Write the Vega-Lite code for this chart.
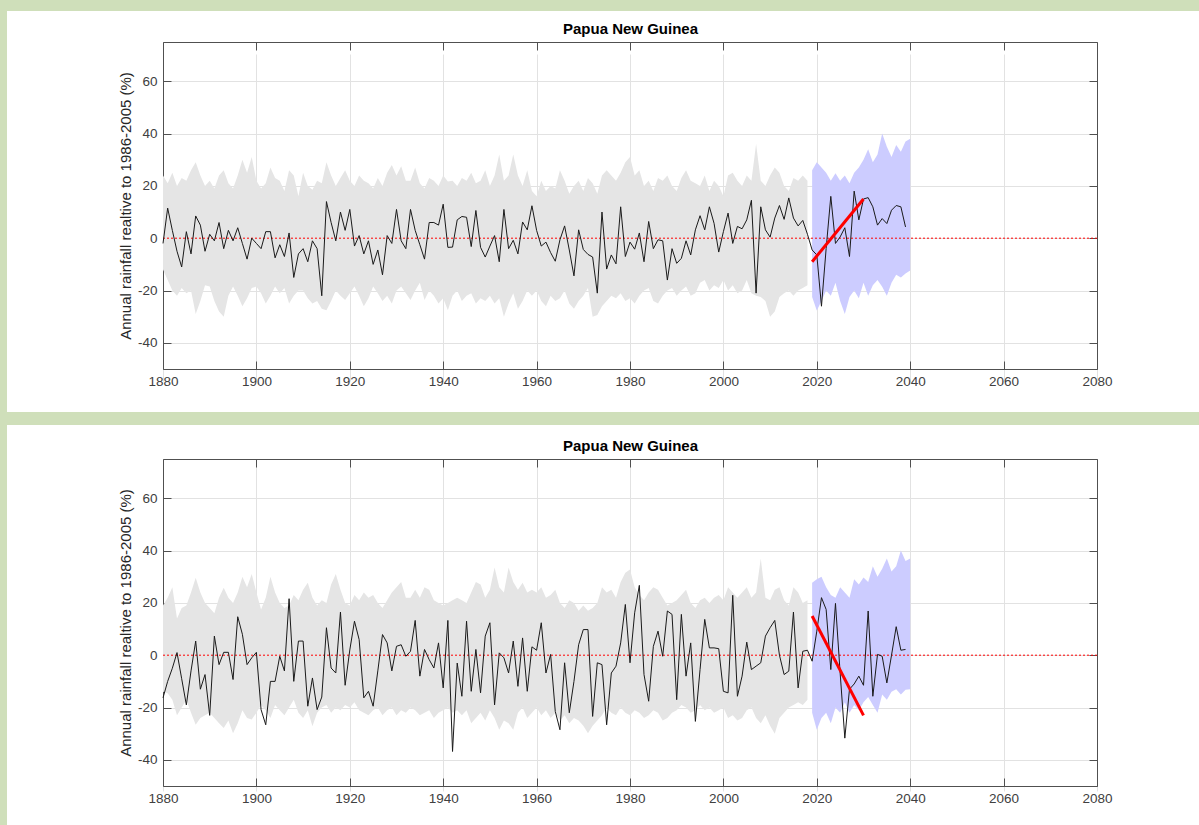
{
  "$schema": "https://vega.github.io/schema/vega-lite/v6.json",
  "background": "#cfdfba",
  "padding": {"left": 7, "top": 11, "right": 0, "bottom": 0},
  "spacing": 13,
  "config": {"font": "Liberation Sans", "view": {"stroke": null}},
  "datasets": {
    "zero": [{"year": 1880, "value": 0}, {"year": 2080, "value": 0}],
    "top_trend": [{"year": 2019, "value": -9}, {"year": 2030, "value": 15}],
    "bot_trend": [{"year": 2019, "value": 15}, {"year": 2030, "value": -23}],
    "top_obs": [
      {"year":1880,"value":-2},{"year":1881,"value":11.5},{"year":1882,"value":3},{"year":1883,"value":-5},{"year":1884,"value":-11},{"year":1885,"value":2.5},{"year":1886,"value":-6},{"year":1887,"value":8.5},{"year":1888,"value":5},{"year":1889,"value":-5},
      {"year":1890,"value":1.5},{"year":1891,"value":-1},{"year":1892,"value":6},{"year":1893,"value":-4},{"year":1894,"value":3},{"year":1895,"value":-1},{"year":1896,"value":4},{"year":1897,"value":-2},{"year":1898,"value":-8},{"year":1899,"value":0},
      {"year":1900,"value":-2},{"year":1901,"value":-4},{"year":1902,"value":2.5},{"year":1903,"value":2.5},{"year":1904,"value":-7.5},{"year":1905,"value":-2.5},{"year":1906,"value":-7},{"year":1907,"value":2},{"year":1908,"value":-15},{"year":1909,"value":-6},
      {"year":1910,"value":-4},{"year":1911,"value":-9},{"year":1912,"value":-1},{"year":1913,"value":-4},{"year":1914,"value":-22},{"year":1915,"value":14},{"year":1916,"value":6},{"year":1917,"value":-1},{"year":1918,"value":10},{"year":1919,"value":3},
      {"year":1920,"value":11},{"year":1921,"value":-3},{"year":1922,"value":1},{"year":1923,"value":-6},{"year":1924,"value":-1},{"year":1925,"value":-10},{"year":1926,"value":-4.5},{"year":1927,"value":-14},{"year":1928,"value":1},{"year":1929,"value":-2},
      {"year":1930,"value":11},{"year":1931,"value":-1},{"year":1932,"value":-4},{"year":1933,"value":11},{"year":1934,"value":3},{"year":1935,"value":-2.5},{"year":1936,"value":-8},{"year":1937,"value":6},{"year":1938,"value":6},{"year":1939,"value":5},
      {"year":1940,"value":13},{"year":1941,"value":-3.5},{"year":1942,"value":-3.4},{"year":1943,"value":7},{"year":1944,"value":8.3},{"year":1945,"value":8},{"year":1946,"value":-3.2},{"year":1947,"value":10.6},{"year":1948,"value":-3.5},{"year":1949,"value":-7.2},
      {"year":1950,"value":-3},{"year":1951,"value":1},{"year":1952,"value":-9},{"year":1953,"value":11},{"year":1954,"value":-4},{"year":1955,"value":-0.8},{"year":1956,"value":-6},{"year":1957,"value":6.2},{"year":1958,"value":3.2},{"year":1959,"value":12.4},
      {"year":1960,"value":3},{"year":1961,"value":-3},{"year":1962,"value":-1.5},{"year":1963,"value":-5.5},{"year":1964,"value":-8.8},{"year":1965,"value":-0.6},{"year":1966,"value":4.7},{"year":1967,"value":-4.5},{"year":1968,"value":-14.4},{"year":1969,"value":3.2},
      {"year":1970,"value":-4.3},{"year":1971,"value":-6.2},{"year":1972,"value":-7.2},{"year":1973,"value":-21},{"year":1974,"value":10},{"year":1975,"value":-11.8},{"year":1976,"value":-6.4},{"year":1977,"value":-9.8},{"year":1978,"value":12},{"year":1979,"value":-7},
      {"year":1980,"value":-1.5},{"year":1981,"value":-4.2},{"year":1982,"value":2},{"year":1983,"value":-9},{"year":1984,"value":6.4},{"year":1985,"value":-4},{"year":1986,"value":-0.6},{"year":1987,"value":-1},{"year":1988,"value":-16},{"year":1989,"value":-4},
      {"year":1990,"value":-9.6},{"year":1991,"value":-7.7},{"year":1992,"value":-1},{"year":1993,"value":-6.4},{"year":1994,"value":3.2},{"year":1995,"value":8.6},{"year":1996,"value":3.2},{"year":1997,"value":12},{"year":1998,"value":5.7},{"year":1999,"value":-5.3},
      {"year":2000,"value":2.5},{"year":2001,"value":9.6},{"year":2002,"value":-2},{"year":2003,"value":4.5},{"year":2004,"value":3.6},{"year":2005,"value":7},{"year":2006,"value":14.5},{"year":2007,"value":-21},{"year":2008,"value":12},{"year":2009,"value":3.2},
      {"year":2010,"value":0.4},{"year":2011,"value":7.7},{"year":2012,"value":12.5},{"year":2013,"value":7.2},{"year":2014,"value":15.4},{"year":2015,"value":7.7},{"year":2016,"value":4.7},{"year":2017,"value":6.8},{"year":2018,"value":1.5},{"year":2019,"value":-4.5},
      {"year":2020,"value":-6.4},{"year":2021,"value":-26},{"year":2022,"value":-4},{"year":2023,"value":16},{"year":2024,"value":-2},{"year":2025,"value":0.5},{"year":2026,"value":4},{"year":2027,"value":-7},{"year":2028,"value":18},{"year":2029,"value":7},
      {"year":2030,"value":15},{"year":2031,"value":15.5},{"year":2032,"value":12},{"year":2033,"value":5},{"year":2034,"value":7.5},{"year":2035,"value":5.6},{"year":2036,"value":10.7},{"year":2037,"value":12.5},{"year":2038,"value":12},{"year":2039,"value":4.3}
    ],
    "top_band": [
      {"year":1880,"lo":-12,"hi":24,"period":"historical"},{"year":1881,"lo":-16,"hi":21,"period":"historical"},{"year":1882,"lo":-20,"hi":25,"period":"historical"},{"year":1883,"lo":-22,"hi":20,"period":"historical"},{"year":1884,"lo":-19,"hi":23,"period":"historical"},
      {"year":1885,"lo":-21,"hi":22,"period":"historical"},{"year":1886,"lo":-20,"hi":26,"period":"historical"},{"year":1887,"lo":-29,"hi":29,"period":"historical"},{"year":1888,"lo":-24,"hi":24,"period":"historical"},{"year":1889,"lo":-18,"hi":20,"period":"historical"},
      {"year":1890,"lo":-18.5,"hi":22,"period":"historical"},{"year":1891,"lo":-24,"hi":19,"period":"historical"},{"year":1892,"lo":-28,"hi":24,"period":"historical"},{"year":1893,"lo":-30,"hi":26,"period":"historical"},{"year":1894,"lo":-22,"hi":21,"period":"historical"},
      {"year":1895,"lo":-18.5,"hi":19,"period":"historical"},{"year":1896,"lo":-22,"hi":24,"period":"historical"},{"year":1897,"lo":-26,"hi":30,"period":"historical"},{"year":1898,"lo":-23,"hi":25,"period":"historical"},{"year":1899,"lo":-19,"hi":31,"period":"historical"},
      {"year":1900,"lo":-18.5,"hi":22,"period":"historical"},{"year":1901,"lo":-21,"hi":19,"period":"historical"},{"year":1902,"lo":-25,"hi":21,"period":"historical"},{"year":1903,"lo":-22,"hi":27,"period":"historical"},{"year":1904,"lo":-18.5,"hi":23,"period":"historical"},
      {"year":1905,"lo":-21,"hi":22,"period":"historical"},{"year":1906,"lo":-19,"hi":18,"period":"historical"},{"year":1907,"lo":-25,"hi":26,"period":"historical"},{"year":1908,"lo":-22,"hi":24,"period":"historical"},{"year":1909,"lo":-20,"hi":16,"period":"historical"},
      {"year":1910,"lo":-20,"hi":25,"period":"historical"},{"year":1911,"lo":-23,"hi":20,"period":"historical"},{"year":1912,"lo":-25,"hi":18.5,"period":"historical"},{"year":1913,"lo":-24,"hi":22,"period":"historical"},{"year":1914,"lo":-27,"hi":21,"period":"historical"},
      {"year":1915,"lo":-27.5,"hi":29,"period":"historical"},{"year":1916,"lo":-24,"hi":24,"period":"historical"},{"year":1917,"lo":-20,"hi":20,"period":"historical"},{"year":1918,"lo":-22,"hi":23,"period":"historical"},{"year":1919,"lo":-23.6,"hi":26,"period":"historical"},
      {"year":1920,"lo":-21,"hi":22,"period":"historical"},{"year":1921,"lo":-18.5,"hi":20,"period":"historical"},{"year":1922,"lo":-22,"hi":24,"period":"historical"},{"year":1923,"lo":-26,"hi":22,"period":"historical"},{"year":1924,"lo":-23,"hi":21,"period":"historical"},
      {"year":1925,"lo":-18.5,"hi":19,"period":"historical"},{"year":1926,"lo":-21,"hi":23,"period":"historical"},{"year":1927,"lo":-24,"hi":20,"period":"historical"},{"year":1928,"lo":-22,"hi":25,"period":"historical"},{"year":1929,"lo":-25,"hi":28,"period":"historical"},
      {"year":1930,"lo":-20,"hi":24,"period":"historical"},{"year":1931,"lo":-18.5,"hi":27.5,"period":"historical"},{"year":1932,"lo":-21,"hi":22,"period":"historical"},{"year":1933,"lo":-23.6,"hi":22,"period":"historical"},{"year":1934,"lo":-20,"hi":27,"period":"historical"},
      {"year":1935,"lo":-17,"hi":21,"period":"historical"},{"year":1936,"lo":-23.6,"hi":19,"period":"historical"},{"year":1937,"lo":-20,"hi":23,"period":"historical"},{"year":1938,"lo":-22,"hi":22,"period":"historical"},{"year":1939,"lo":-25,"hi":20,"period":"historical"},
      {"year":1940,"lo":-23,"hi":24,"period":"historical"},{"year":1941,"lo":-27.5,"hi":21.7,"period":"historical"},{"year":1942,"lo":-22,"hi":22,"period":"historical"},{"year":1943,"lo":-20,"hi":20,"period":"historical"},{"year":1944,"lo":-24,"hi":23,"period":"historical"},
      {"year":1945,"lo":-22,"hi":22,"period":"historical"},{"year":1946,"lo":-21,"hi":25,"period":"historical"},{"year":1947,"lo":-25,"hi":21,"period":"historical"},{"year":1948,"lo":-23,"hi":22,"period":"historical"},{"year":1949,"lo":-24,"hi":26,"period":"historical"},
      {"year":1950,"lo":-22,"hi":20,"period":"historical"},{"year":1951,"lo":-25,"hi":24,"period":"historical"},{"year":1952,"lo":-23,"hi":32,"period":"historical"},{"year":1953,"lo":-30,"hi":22,"period":"historical"},{"year":1954,"lo":-25,"hi":24,"period":"historical"},
      {"year":1955,"lo":-21,"hi":32,"period":"historical"},{"year":1956,"lo":-27,"hi":24,"period":"historical"},{"year":1957,"lo":-24,"hi":20,"period":"historical"},{"year":1958,"lo":-20,"hi":26,"period":"historical"},{"year":1959,"lo":-22,"hi":18,"period":"historical"},
      {"year":1960,"lo":-20,"hi":16,"period":"historical"},{"year":1961,"lo":-24,"hi":22,"period":"historical"},{"year":1962,"lo":-26,"hi":18,"period":"historical"},{"year":1963,"lo":-22,"hi":20,"period":"historical"},{"year":1964,"lo":-24,"hi":19,"period":"historical"},
      {"year":1965,"lo":-23,"hi":26,"period":"historical"},{"year":1966,"lo":-20,"hi":22,"period":"historical"},{"year":1967,"lo":-25,"hi":17,"period":"historical"},{"year":1968,"lo":-27,"hi":20,"period":"historical"},{"year":1969,"lo":-24,"hi":22,"period":"historical"},
      {"year":1970,"lo":-22,"hi":18,"period":"historical"},{"year":1971,"lo":-19,"hi":23,"period":"historical"},{"year":1972,"lo":-30,"hi":21,"period":"historical"},{"year":1973,"lo":-29.4,"hi":17,"period":"historical"},{"year":1974,"lo":-26,"hi":24,"period":"historical"},
      {"year":1975,"lo":-24,"hi":26,"period":"historical"},{"year":1976,"lo":-22,"hi":24,"period":"historical"},{"year":1977,"lo":-23,"hi":22,"period":"historical"},{"year":1978,"lo":-21,"hi":25,"period":"historical"},{"year":1979,"lo":-24,"hi":29,"period":"historical"},
      {"year":1980,"lo":-23,"hi":31,"period":"historical"},{"year":1981,"lo":-25,"hi":24,"period":"historical"},{"year":1982,"lo":-22,"hi":26,"period":"historical"},{"year":1983,"lo":-20,"hi":20,"period":"historical"},{"year":1984,"lo":-19,"hi":22,"period":"historical"},
      {"year":1985,"lo":-24,"hi":18,"period":"historical"},{"year":1986,"lo":-25,"hi":23,"period":"historical"},{"year":1987,"lo":-22,"hi":22,"period":"historical"},{"year":1988,"lo":-20,"hi":24,"period":"historical"},{"year":1989,"lo":-19,"hi":20,"period":"historical"},
      {"year":1990,"lo":-22,"hi":18,"period":"historical"},{"year":1991,"lo":-20,"hi":23,"period":"historical"},{"year":1992,"lo":-18.5,"hi":26,"period":"historical"},{"year":1993,"lo":-22,"hi":22,"period":"historical"},{"year":1994,"lo":-21,"hi":21,"period":"historical"},
      {"year":1995,"lo":-17,"hi":20,"period":"historical"},{"year":1996,"lo":-16,"hi":24,"period":"historical"},{"year":1997,"lo":-20,"hi":18,"period":"historical"},{"year":1998,"lo":-18,"hi":22,"period":"historical"},{"year":1999,"lo":-19,"hi":20,"period":"historical"},
      {"year":2000,"lo":-16,"hi":16,"period":"historical"},{"year":2001,"lo":-20,"hi":24,"period":"historical"},{"year":2002,"lo":-18,"hi":25,"period":"historical"},{"year":2003,"lo":-21,"hi":22,"period":"historical"},{"year":2004,"lo":-20,"hi":20,"period":"historical"},
      {"year":2005,"lo":-16,"hi":24,"period":"historical"},{"year":2006,"lo":-21,"hi":22,"period":"historical"},{"year":2007,"lo":-22,"hi":36,"period":"historical"},{"year":2008,"lo":-22.5,"hi":22,"period":"historical"},{"year":2009,"lo":-24,"hi":20,"period":"historical"},
      {"year":2010,"lo":-30,"hi":24,"period":"historical"},{"year":2011,"lo":-28,"hi":27,"period":"historical"},{"year":2012,"lo":-22.5,"hi":25,"period":"historical"},{"year":2013,"lo":-21,"hi":20,"period":"historical"},{"year":2014,"lo":-20,"hi":18,"period":"historical"},
      {"year":2015,"lo":-22,"hi":23,"period":"historical"},{"year":2016,"lo":-20,"hi":22,"period":"historical"},{"year":2017,"lo":-19,"hi":24,"period":"historical"},{"year":2018,"lo":-18,"hi":22,"period":"historical"},
      {"year":2019,"lo":-22.5,"hi":26,"period":"projection"},{"year":2020,"lo":-27.6,"hi":29,"period":"projection"},{"year":2021,"lo":-24,"hi":27,"period":"projection"},{"year":2022,"lo":-20,"hi":25,"period":"projection"},{"year":2023,"lo":-22,"hi":22,"period":"projection"},
      {"year":2024,"lo":-17,"hi":24.8,"period":"projection"},{"year":2025,"lo":-24,"hi":22,"period":"projection"},{"year":2026,"lo":-29,"hi":24,"period":"projection"},{"year":2027,"lo":-22.5,"hi":21,"period":"projection"},{"year":2028,"lo":-20,"hi":25,"period":"projection"},
      {"year":2029,"lo":-23,"hi":27,"period":"projection"},{"year":2030,"lo":-17,"hi":30,"period":"projection"},{"year":2031,"lo":-22,"hi":34,"period":"projection"},{"year":2032,"lo":-18,"hi":29,"period":"projection"},{"year":2033,"lo":-16,"hi":32,"period":"projection"},
      {"year":2034,"lo":-18.6,"hi":40,"period":"projection"},{"year":2035,"lo":-22,"hi":35,"period":"projection"},{"year":2036,"lo":-17,"hi":31,"period":"projection"},{"year":2037,"lo":-14,"hi":35.6,"period":"projection"},{"year":2038,"lo":-15,"hi":33,"period":"projection"},
      {"year":2039,"lo":-13.5,"hi":37,"period":"projection"},{"year":2040,"lo":-12.3,"hi":38,"period":"projection"}
    ],
    "bot_obs": [
      {"year":1880,"value":-16.3},{"year":1881,"value":-10},{"year":1882,"value":-5},{"year":1883,"value":1},{"year":1884,"value":-9},{"year":1885,"value":-19},{"year":1886,"value":-6},{"year":1887,"value":5.4},{"year":1888,"value":-13},{"year":1889,"value":-7.4},
      {"year":1890,"value":-23},{"year":1891,"value":7.3},{"year":1892,"value":-3.6},{"year":1893,"value":1.1},{"year":1894,"value":1.1},{"year":1895,"value":-9.3},{"year":1896,"value":14.7},{"year":1897,"value":8},{"year":1898,"value":-3.6},{"year":1899,"value":-1},
      {"year":1900,"value":1.1},{"year":1901,"value":-20.8},{"year":1902,"value":-26.6},{"year":1903,"value":-10},{"year":1904,"value":-10},{"year":1905,"value":-0.4},{"year":1906,"value":-6},{"year":1907,"value":21.6},{"year":1908,"value":-10},{"year":1909,"value":5.4},
      {"year":1910,"value":5.4},{"year":1911,"value":-19.5},{"year":1912,"value":-8.7},{"year":1913,"value":-20.8},{"year":1914,"value":-16},{"year":1915,"value":10.5},{"year":1916,"value":-4.9},{"year":1917,"value":-6.8},{"year":1918,"value":16.5},{"year":1919,"value":-11.5},
      {"year":1920,"value":2},{"year":1921,"value":13},{"year":1922,"value":6},{"year":1923,"value":-16.3},{"year":1924,"value":-13.8},{"year":1925,"value":-19.5},{"year":1926,"value":-6},{"year":1927,"value":7.9},{"year":1928,"value":4.7},{"year":1929,"value":-6},
      {"year":1930,"value":3.4},{"year":1931,"value":4},{"year":1932,"value":-0.4},{"year":1933,"value":1.5},{"year":1934,"value":13.3},{"year":1935,"value":-8},{"year":1936,"value":2.2},{"year":1937,"value":-1.7},{"year":1938,"value":-4.9},{"year":1939,"value":4.7},
      {"year":1940,"value":-12.5},{"year":1941,"value":13.3},{"year":1942,"value":-36.8},{"year":1943,"value":-3},{"year":1944,"value":-15.7},{"year":1945,"value":13},{"year":1946,"value":-13.8},{"year":1947,"value":2.2},{"year":1948,"value":-14.4},{"year":1949,"value":7.3},
      {"year":1950,"value":12.4},{"year":1951,"value":-19},{"year":1952,"value":0.9},{"year":1953,"value":-1},{"year":1954,"value":-6.8},{"year":1955,"value":5.4},{"year":1956,"value":-11.9},{"year":1957,"value":6.6},{"year":1958,"value":-13.8},{"year":1959,"value":3.2},
      {"year":1960,"value":1.9},{"year":1961,"value":12.4},{"year":1962,"value":-6.8},{"year":1963,"value":0.3},{"year":1964,"value":-21.5},{"year":1965,"value":-28.5},{"year":1966,"value":-2.9},{"year":1967,"value":-22},{"year":1968,"value":-10},{"year":1969,"value":4},
      {"year":1970,"value":9.8},{"year":1971,"value":9.8},{"year":1972,"value":-23.4},{"year":1973,"value":-2.9},{"year":1974,"value":-3.6},{"year":1975,"value":-26.6},{"year":1976,"value":-6.8},{"year":1977,"value":-4.2},{"year":1978,"value":4.7},{"year":1979,"value":19.4},
      {"year":1980,"value":-2.9},{"year":1981,"value":16.2},{"year":1982,"value":26.7},{"year":1983,"value":-7.4},{"year":1984,"value":-17.6},{"year":1985,"value":3.4},{"year":1986,"value":9.2},{"year":1987,"value":-0.4},{"year":1988,"value":16.9},{"year":1989,"value":15.6},
      {"year":1990,"value":-17},{"year":1991,"value":15.6},{"year":1992,"value":-8},{"year":1993,"value":4.7},{"year":1994,"value":-25.3},{"year":1995,"value":-5.5},{"year":1996,"value":13.7},{"year":1997,"value":2.8},{"year":1998,"value":2.8},{"year":1999,"value":2.5},
      {"year":2000,"value":-13.8},{"year":2001,"value":-14.4},{"year":2002,"value":22.9},{"year":2003,"value":-15.7},{"year":2004,"value":-8},{"year":2005,"value":5},{"year":2006,"value":-5.5},{"year":2007,"value":-4.2},{"year":2008,"value":-2.9},{"year":2009,"value":7.3},
      {"year":2010,"value":10.5},{"year":2011,"value":13.3},{"year":2012,"value":0},{"year":2013,"value":-7.4},{"year":2014,"value":-6.1},{"year":2015,"value":16.5},{"year":2016,"value":-12.5},{"year":2017,"value":1.5},{"year":2018,"value":1.9},{"year":2019,"value":-2.3},
      {"year":2020,"value":9.2},{"year":2021,"value":22},{"year":2022,"value":17.5},{"year":2023,"value":-5.5},{"year":2024,"value":19.8},{"year":2025,"value":-6.8},{"year":2026,"value":-31.7},{"year":2027,"value":-13},{"year":2028,"value":-11},{"year":2029,"value":-8},
      {"year":2030,"value":-11.5},{"year":2031,"value":16.9},{"year":2032,"value":-15.7},{"year":2033,"value":0.3},{"year":2034,"value":-0.4},{"year":2035,"value":-10.6},{"year":2036,"value":0},{"year":2037,"value":10.9},{"year":2038,"value":1.9},{"year":2039,"value":2.2}
    ],
    "bot_band": [
      {"year":1880,"lo":-14,"hi":19,"period":"historical"},{"year":1881,"lo":-14.5,"hi":22,"period":"historical"},{"year":1882,"lo":-17,"hi":26,"period":"historical"},{"year":1883,"lo":-23,"hi":14,"period":"historical"},{"year":1884,"lo":-20,"hi":18,"period":"historical"},
      {"year":1885,"lo":-17,"hi":19,"period":"historical"},{"year":1886,"lo":-22,"hi":24,"period":"historical"},{"year":1887,"lo":-26.6,"hi":29.6,"period":"historical"},{"year":1888,"lo":-24,"hi":24,"period":"historical"},{"year":1889,"lo":-23,"hi":20,"period":"historical"},
      {"year":1890,"lo":-22,"hi":18,"period":"historical"},{"year":1891,"lo":-24,"hi":16,"period":"historical"},{"year":1892,"lo":-26,"hi":22,"period":"historical"},{"year":1893,"lo":-27.8,"hi":25.8,"period":"historical"},{"year":1894,"lo":-25,"hi":22,"period":"historical"},
      {"year":1895,"lo":-29.8,"hi":20,"period":"historical"},{"year":1896,"lo":-26,"hi":24,"period":"historical"},{"year":1897,"lo":-21,"hi":30,"period":"historical"},{"year":1898,"lo":-24,"hi":26,"period":"historical"},{"year":1899,"lo":-24.6,"hi":31,"period":"historical"},
      {"year":1900,"lo":-22,"hi":24,"period":"historical"},{"year":1901,"lo":-19,"hi":17.5,"period":"historical"},{"year":1902,"lo":-21,"hi":22,"period":"historical"},{"year":1903,"lo":-24,"hi":30,"period":"historical"},{"year":1904,"lo":-19,"hi":24,"period":"historical"},
      {"year":1905,"lo":-21,"hi":20,"period":"historical"},{"year":1906,"lo":-23,"hi":18,"period":"historical"},{"year":1907,"lo":-20,"hi":19,"period":"historical"},{"year":1908,"lo":-17,"hi":23,"period":"historical"},{"year":1909,"lo":-22,"hi":21,"period":"historical"},
      {"year":1910,"lo":-24,"hi":25,"period":"historical"},{"year":1911,"lo":-21,"hi":27.7,"period":"historical"},{"year":1912,"lo":-27.2,"hi":22,"period":"historical"},{"year":1913,"lo":-22,"hi":19,"period":"historical"},{"year":1914,"lo":-20,"hi":21,"period":"historical"},
      {"year":1915,"lo":-19,"hi":20,"period":"historical"},{"year":1916,"lo":-22,"hi":27,"period":"historical"},{"year":1917,"lo":-20,"hi":31,"period":"historical"},{"year":1918,"lo":-21,"hi":25,"period":"historical"},{"year":1919,"lo":-19,"hi":20,"period":"historical"},
      {"year":1920,"lo":-20,"hi":19,"period":"historical"},{"year":1921,"lo":-18,"hi":23,"period":"historical"},{"year":1922,"lo":-21,"hi":21,"period":"historical"},{"year":1923,"lo":-22,"hi":24,"period":"historical"},{"year":1924,"lo":-23,"hi":22,"period":"historical"},
      {"year":1925,"lo":-21,"hi":23,"period":"historical"},{"year":1926,"lo":-20,"hi":20,"period":"historical"},{"year":1927,"lo":-23,"hi":18,"period":"historical"},{"year":1928,"lo":-21,"hi":21,"period":"historical"},{"year":1929,"lo":-20,"hi":24,"period":"historical"},
      {"year":1930,"lo":-23,"hi":26,"period":"historical"},{"year":1931,"lo":-21,"hi":28,"period":"historical"},{"year":1932,"lo":-22,"hi":22,"period":"historical"},{"year":1933,"lo":-20,"hi":22,"period":"historical"},{"year":1934,"lo":-21,"hi":25,"period":"historical"},
      {"year":1935,"lo":-23,"hi":22,"period":"historical"},{"year":1936,"lo":-22,"hi":26,"period":"historical"},{"year":1937,"lo":-21,"hi":25,"period":"historical"},{"year":1938,"lo":-24,"hi":21,"period":"historical"},{"year":1939,"lo":-22,"hi":20,"period":"historical"},
      {"year":1940,"lo":-21,"hi":19,"period":"historical"},{"year":1941,"lo":-20,"hi":20,"period":"historical"},{"year":1942,"lo":-22,"hi":21,"period":"historical"},{"year":1943,"lo":-21,"hi":22,"period":"historical"},{"year":1944,"lo":-23,"hi":21,"period":"historical"},
      {"year":1945,"lo":-21,"hi":20,"period":"historical"},{"year":1946,"lo":-26,"hi":24,"period":"historical"},{"year":1947,"lo":-24,"hi":28,"period":"historical"},{"year":1948,"lo":-22,"hi":27,"period":"historical"},{"year":1949,"lo":-25,"hi":22,"period":"historical"},
      {"year":1950,"lo":-21,"hi":25,"period":"historical"},{"year":1951,"lo":-24,"hi":33.5,"period":"historical"},{"year":1952,"lo":-28.5,"hi":26,"period":"historical"},{"year":1953,"lo":-25,"hi":24,"period":"historical"},{"year":1954,"lo":-26,"hi":33.5,"period":"historical"},
      {"year":1955,"lo":-28.5,"hi":28,"period":"historical"},{"year":1956,"lo":-22,"hi":25,"period":"historical"},{"year":1957,"lo":-20,"hi":27.7,"period":"historical"},{"year":1958,"lo":-24,"hi":24,"period":"historical"},{"year":1959,"lo":-22,"hi":25,"period":"historical"},
      {"year":1960,"lo":-20,"hi":24,"period":"historical"},{"year":1961,"lo":-23,"hi":26,"period":"historical"},{"year":1962,"lo":-21,"hi":22,"period":"historical"},{"year":1963,"lo":-24,"hi":23,"period":"historical"},{"year":1964,"lo":-22,"hi":25,"period":"historical"},
      {"year":1965,"lo":-25,"hi":20,"period":"historical"},{"year":1966,"lo":-23,"hi":18,"period":"historical"},{"year":1967,"lo":-26,"hi":21,"period":"historical"},{"year":1968,"lo":-24,"hi":20,"period":"historical"},{"year":1969,"lo":-25,"hi":17,"period":"historical"},
      {"year":1970,"lo":-27,"hi":19,"period":"historical"},{"year":1971,"lo":-29.8,"hi":17,"period":"historical"},{"year":1972,"lo":-27,"hi":18,"period":"historical"},{"year":1973,"lo":-25,"hi":20,"period":"historical"},{"year":1974,"lo":-23,"hi":26,"period":"historical"},
      {"year":1975,"lo":-20,"hi":24,"period":"historical"},{"year":1976,"lo":-22,"hi":25,"period":"historical"},{"year":1977,"lo":-23,"hi":22,"period":"historical"},{"year":1978,"lo":-20,"hi":28,"period":"historical"},{"year":1979,"lo":-22,"hi":31.5,"period":"historical"},
      {"year":1980,"lo":-23,"hi":32.8,"period":"historical"},{"year":1981,"lo":-21,"hi":26,"period":"historical"},{"year":1982,"lo":-22,"hi":23,"period":"historical"},{"year":1983,"lo":-24,"hi":21,"period":"historical"},{"year":1984,"lo":-23,"hi":24,"period":"historical"},
      {"year":1985,"lo":-21,"hi":26,"period":"historical"},{"year":1986,"lo":-22,"hi":25,"period":"historical"},{"year":1987,"lo":-25,"hi":22,"period":"historical"},{"year":1988,"lo":-24,"hi":19,"period":"historical"},{"year":1989,"lo":-22,"hi":20,"period":"historical"},
      {"year":1990,"lo":-21,"hi":21,"period":"historical"},{"year":1991,"lo":-19,"hi":23,"period":"historical"},{"year":1992,"lo":-20,"hi":25,"period":"historical"},{"year":1993,"lo":-22,"hi":20,"period":"historical"},{"year":1994,"lo":-21,"hi":18,"period":"historical"},
      {"year":1995,"lo":-19,"hi":21,"period":"historical"},{"year":1996,"lo":-21,"hi":22,"period":"historical"},{"year":1997,"lo":-20,"hi":20,"period":"historical"},{"year":1998,"lo":-22,"hi":22,"period":"historical"},{"year":1999,"lo":-21,"hi":23,"period":"historical"},
      {"year":2000,"lo":-20,"hi":21,"period":"historical"},{"year":2001,"lo":-24,"hi":26,"period":"historical"},{"year":2002,"lo":-23,"hi":24,"period":"historical"},{"year":2003,"lo":-25,"hi":22,"period":"historical"},{"year":2004,"lo":-24,"hi":24,"period":"historical"},
      {"year":2005,"lo":-21,"hi":26,"period":"historical"},{"year":2006,"lo":-20,"hi":22,"period":"historical"},{"year":2007,"lo":-24,"hi":24,"period":"historical"},{"year":2008,"lo":-26,"hi":37,"period":"historical"},{"year":2009,"lo":-23,"hi":22,"period":"historical"},
      {"year":2010,"lo":-27,"hi":21,"period":"historical"},{"year":2011,"lo":-30,"hi":25,"period":"historical"},{"year":2012,"lo":-24,"hi":26,"period":"historical"},{"year":2013,"lo":-22,"hi":21,"period":"historical"},{"year":2014,"lo":-20,"hi":19,"period":"historical"},
      {"year":2015,"lo":-19,"hi":26,"period":"historical"},{"year":2016,"lo":-18,"hi":24,"period":"historical"},{"year":2017,"lo":-19,"hi":20,"period":"historical"},{"year":2018,"lo":-17,"hi":21,"period":"historical"},
      {"year":2019,"lo":-22,"hi":27.7,"period":"projection"},{"year":2020,"lo":-28.5,"hi":29,"period":"projection"},{"year":2021,"lo":-24,"hi":30,"period":"projection"},{"year":2022,"lo":-22,"hi":26,"period":"projection"},{"year":2023,"lo":-26,"hi":23,"period":"projection"},
      {"year":2024,"lo":-20,"hi":22,"period":"projection"},{"year":2025,"lo":-22,"hi":26,"period":"projection"},{"year":2026,"lo":-18,"hi":24,"period":"projection"},{"year":2027,"lo":-22,"hi":22,"period":"projection"},{"year":2028,"lo":-19,"hi":29,"period":"projection"},
      {"year":2029,"lo":-21,"hi":27,"period":"projection"},{"year":2030,"lo":-18,"hi":29.7,"period":"projection"},{"year":2031,"lo":-16,"hi":28,"period":"projection"},{"year":2032,"lo":-19,"hi":34,"period":"projection"},{"year":2033,"lo":-22,"hi":30,"period":"projection"},
      {"year":2034,"lo":-15,"hi":33,"period":"projection"},{"year":2035,"lo":-17,"hi":37,"period":"projection"},{"year":2036,"lo":-14,"hi":32,"period":"projection"},{"year":2037,"lo":-13,"hi":34,"period":"projection"},{"year":2038,"lo":-15,"hi":40,"period":"projection"},
      {"year":2039,"lo":-13.2,"hi":36,"period":"projection"},{"year":2040,"lo":-13,"hi":37,"period":"projection"}
    ]
  },
  "vconcat": [
    {
      "width": 1192, "height": 401,
      "view": {"fill": "white", "stroke": null},
      "resolve": {"axis": {"x": "independent", "y": "independent"}},
      "layer": [
        {
          "data": {"name": "top_band"},
          "mark": {"type": "area"},
          "encoding": {
            "x": {"field": "year", "type": "quantitative", "scale": {"domain": [1880, 2080], "range": [156, 1090], "nice": false, "zero": false},
              "axis": {"orient": "bottom", "offset": -43, "values": [1880,1900,1920,1940,1960,1980,2000,2020,2040,2060,2080], "labelExpr": "toString(datum.value)", "grid": true, "gridColor": "#e2e2e2", "tickSize": -8, "tickColor": "#505050", "domain": true, "domainColor": "#505050", "labelFontSize": 13.5, "labelColor": "#404040", "labelPadding": 13, "title": null, "labelFlush": false, "labelOverlap": false}},
            "y": {"field": "lo", "type": "quantitative", "scale": {"domain": [-50, 75], "range": [358, 31], "nice": false, "zero": false},
              "axis": {"orient": "left", "offset": -156, "values": [-40,-20,0,20,40,60], "labelExpr": "toString(datum.value)", "grid": true, "gridColor": "#e2e2e2", "tickSize": -8, "tickColor": "#505050", "domain": true, "domainColor": "#505050", "labelFontSize": 13.5, "labelColor": "#404040", "labelPadding": 14, "title": "Annual rainfall realtive to 1986-2005 (%)", "titleFontSize": 15, "titleFontWeight": "normal", "titleColor": "#262626", "titlePadding": 4}},
            "y2": {"field": "hi"},
            "color": {"field": "period", "type": "nominal", "scale": {"domain": ["historical", "projection"], "range": ["#e5e5e5", "#ccccff"]}, "legend": null}
          }
        },
        {
          "data": {"name": "zero"},
          "mark": {"type": "line", "color": "#ff0000", "strokeDash": [2, 2], "strokeWidth": 1},
          "encoding": {
            "x": {"field": "year", "type": "quantitative", "axis": null},
            "y": {"field": "value", "type": "quantitative", "axis": null}
          }
        },
        {
          "data": {"name": "top_obs"},
          "mark": {"type": "line", "color": "#1a1a1a", "strokeWidth": 1},
          "encoding": {
            "x": {"field": "year", "type": "quantitative", "axis": null},
            "y": {"field": "value", "type": "quantitative", "axis": null}
          }
        },
        {
          "data": {"name": "top_trend"},
          "mark": {"type": "line", "color": "#ff0000", "strokeWidth": 3},
          "encoding": {
            "x": {"field": "year", "type": "quantitative", "axis": {"orient": "top", "offset": -31, "values": [1880,1900,1920,1940,1960,1980,2000,2020,2040,2060,2080], "labels": false, "grid": false, "tickSize": -8, "tickColor": "#505050", "domain": true, "domainColor": "#505050", "title": "Papua New Guinea", "titleFontSize": 15, "titleFontWeight": "bold", "titleColor": "#000000", "titlePadding": 5}},
            "y": {"field": "value", "type": "quantitative", "axis": {"orient": "right", "offset": -102, "values": [-40,-20,0,20,40,60], "labels": false, "grid": false, "tickSize": -8, "tickColor": "#505050", "domain": true, "domainColor": "#505050", "title": null}}
          }
        }
      ]
    },
    {
      "width": 1192, "height": 400,
      "view": {"fill": "white", "stroke": null},
      "resolve": {"axis": {"x": "independent", "y": "independent"}},
      "layer": [
        {
          "data": {"name": "bot_band"},
          "mark": {"type": "area"},
          "encoding": {
            "x": {"field": "year", "type": "quantitative", "scale": {"domain": [1880, 2080], "range": [156, 1090], "nice": false, "zero": false},
              "axis": {"orient": "bottom", "offset": -39, "values": [1880,1900,1920,1940,1960,1980,2000,2020,2040,2060,2080], "labelExpr": "toString(datum.value)", "grid": true, "gridColor": "#e2e2e2", "tickSize": -8, "tickColor": "#505050", "domain": true, "domainColor": "#505050", "labelFontSize": 13.5, "labelColor": "#404040", "labelPadding": 13, "title": null, "labelFlush": false, "labelOverlap": false}},
            "y": {"field": "lo", "type": "quantitative", "scale": {"domain": [-50, 75], "range": [361, 34], "nice": false, "zero": false},
              "axis": {"orient": "left", "offset": -156, "values": [-40,-20,0,20,40,60], "labelExpr": "toString(datum.value)", "grid": true, "gridColor": "#e2e2e2", "tickSize": -8, "tickColor": "#505050", "domain": true, "domainColor": "#505050", "labelFontSize": 13.5, "labelColor": "#404040", "labelPadding": 14, "title": "Annual rainfall realtive to 1986-2005 (%)", "titleFontSize": 15, "titleFontWeight": "normal", "titleColor": "#262626", "titlePadding": 4}},
            "y2": {"field": "hi"},
            "color": {"field": "period", "type": "nominal", "scale": {"domain": ["historical", "projection"], "range": ["#e5e5e5", "#ccccff"]}, "legend": null}
          }
        },
        {
          "data": {"name": "zero"},
          "mark": {"type": "line", "color": "#ff0000", "strokeDash": [2, 2], "strokeWidth": 1},
          "encoding": {
            "x": {"field": "year", "type": "quantitative", "axis": null},
            "y": {"field": "value", "type": "quantitative", "axis": null}
          }
        },
        {
          "data": {"name": "bot_obs"},
          "mark": {"type": "line", "color": "#1a1a1a", "strokeWidth": 1},
          "encoding": {
            "x": {"field": "year", "type": "quantitative", "axis": null},
            "y": {"field": "value", "type": "quantitative", "axis": null}
          }
        },
        {
          "data": {"name": "bot_trend"},
          "mark": {"type": "line", "color": "#ff0000", "strokeWidth": 3},
          "encoding": {
            "x": {"field": "year", "type": "quantitative", "axis": {"orient": "top", "offset": -34, "values": [1880,1900,1920,1940,1960,1980,2000,2020,2040,2060,2080], "labels": false, "grid": false, "tickSize": -8, "tickColor": "#505050", "domain": true, "domainColor": "#505050", "title": "Papua New Guinea", "titleFontSize": 15, "titleFontWeight": "bold", "titleColor": "#000000", "titlePadding": 5}},
            "y": {"field": "value", "type": "quantitative", "axis": {"orient": "right", "offset": -102, "values": [-40,-20,0,20,40,60], "labels": false, "grid": false, "tickSize": -8, "tickColor": "#505050", "domain": true, "domainColor": "#505050", "title": null}}
          }
        }
      ]
    }
  ]
}
